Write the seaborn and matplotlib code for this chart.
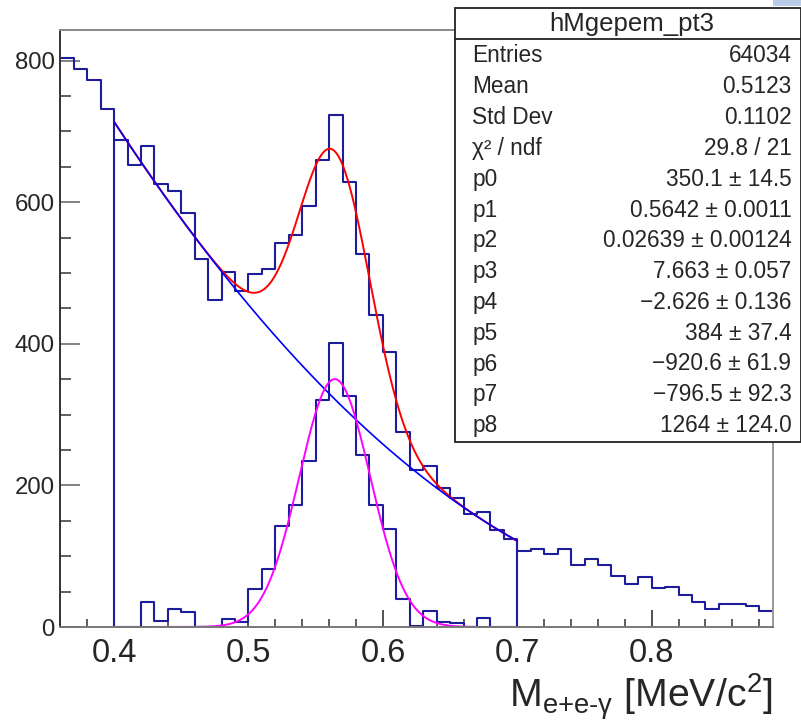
import numpy as np
import pandas as pd
import matplotlib
matplotlib.use("Agg")
import matplotlib.pyplot as plt
import seaborn as sns
from matplotlib.patches import Rectangle
from matplotlib.lines import Line2D
from matplotlib.ticker import MultipleLocator, FixedLocator

# ---------------- data ----------------
bin_low = 0.36
bin_width = 0.01
total_counts = [803, 788, 773, 731, 688, 653, 679, 626, 616, 585,
                520, 462, 502, 474, 499, 505, 543, 553, 594, 660,
                723, 628, 527, 440, 388, 276, 222, 228, 197, 182,
                159, 163, 137, 124, 107, 110, 103, 110, 87, 96,
                87, 72, 61, 70, 55, 56, 45, 35, 26, 32,
                33, 29, 22]
signal_low = 0.40
signal_counts = [0, 0, 35, 8, 25, 21, 0, 0, 11, 7,
                 54, 82, 142, 173, 234, 320, 401, 326, 243, 172,
                 138, 40, 1, 23, 7, 6, 0, 13, 0, 0]
fit_range = [0.40, 0.70]
fit_params = [350.1, 0.5642, 0.02639, 7.663, -2.626, 384.0, -920.6, -796.5, 1264.0]

hist_title = "hMgepem_pt3"
stat_names = ["Entries", "Mean", "Std Dev", "\u03c7\u00b2 / ndf",
              "p0", "p1", "p2", "p3", "p4", "p5", "p6", "p7", "p8"]
stat_values = ["64034", "0.5123", "0.1102", "29.8 / 21",
               "350.1 \u00b1 14.5", "0.5642 \u00b1 0.0011", "0.02639 \u00b1 0.00124",
               "7.663 \u00b1 0.057", "\u22122.626 \u00b1 0.136", "384 \u00b1 37.4",
               "\u2212920.6 \u00b1 61.9", "\u2212796.5 \u00b1 92.3", "1264 \u00b1 124.0"]
x_ticks = [0.4, 0.5, 0.6, 0.7, 0.8]
x_tick_labels = ["0.4", "0.5", "0.6", "0.7", "0.8"]
y_ticks = [0, 200, 400, 600, 800]
y_tick_labels = ["0", "200", "400", "600", "800"]
x_label = r"M$_{\text{e+e-}\gamma}$ [MeV/c$^{2}$]"

# ---------------- style ----------------
sns.set_style("ticks")
plt.rcParams["font.family"] = ["Liberation Sans", "DejaVu Sans"]
plt.rcParams["mathtext.fontset"] = "custom"
plt.rcParams["mathtext.rm"] = "Liberation Sans"
plt.rcParams["mathtext.it"] = "Liberation Sans"
plt.rcParams["mathtext.sf"] = "Liberation Sans"

W, H = 801, 724
fig = plt.figure(figsize=(W / 100, H / 100), dpi=100)
ax_l, ax_r, ax_b, ax_t = 60.3, 772.7, 627.0, 30.0
ax = fig.add_axes([ax_l / W, 1 - ax_b / H, (ax_r - ax_l) / W, (ax_b - ax_t) / H])

navy = "#1c1c9c"
hlw = 1.5

# total histogram
n_tot = len(total_counts)
edges = [round(bin_low + bin_width * k, 4) for k in range(n_tot + 1)]
centers = [e + bin_width / 2 for e in edges[:-1]]
df_tot = pd.DataFrame({"x": centers, "w": total_counts})
sns.histplot(data=df_tot, x="x", weights="w", bins=edges, element="step",
             fill=False, color=navy, linewidth=hlw, ax=ax)

# fit-range copy edges (drops to zero at 0.4 and 0.7)
i0 = int(round((fit_range[0] - bin_low) / bin_width))
i1 = int(round((fit_range[1] - bin_low) / bin_width)) - 1
ax.vlines([fit_range[0], fit_range[1]], 0, [total_counts[i0], total_counts[i1]],
          color=navy, linewidth=hlw)

# signal histogram
n_sig = len(signal_counts)
sedges = [round(signal_low + bin_width * k, 4) for k in range(n_sig + 1)]
scenters = [e + bin_width / 2 for e in sedges[:-1]]
df_sig = pd.DataFrame({"x": scenters, "w": signal_counts})
sns.histplot(data=df_sig, x="x", weights="w", bins=sedges, element="step",
             fill=False, color=navy, linewidth=hlw, ax=ax)
ax.vlines([sedges[0], sedges[-1]], 0, [signal_counts[0], signal_counts[-1]],
          color=navy, linewidth=hlw)

# fit curves from the stated parameters
p0, p1, p2, p3, p4, p5, p6, p7, p8 = fit_params
xs = np.linspace(fit_range[0], fit_range[1], 500)
gaus = p0 * np.exp(-0.5 * ((xs - p1) / p2) ** 2)
bkg = np.exp(p3 + p4 * xs) + p5 + p6 * xs + p7 * xs ** 2 + p8 * xs ** 3
sns.lineplot(x=xs, y=gaus + bkg, color="#ff0000", linewidth=1.4, ax=ax,
             estimator=None, sort=False)
sns.lineplot(x=xs, y=bkg, color="#0000ff", linewidth=1.2, ax=ax,
             estimator=None, sort=False)
sns.lineplot(x=xs, y=gaus, color="#ff00ff", linewidth=1.4, ax=ax,
             estimator=None, sort=False)

# axes
ax.set_xlim(edges[0], edges[-1])
ax.set_ylim(0, 1.05 * max(total_counts))
ax.set_ylabel("")
ax.xaxis.set_major_locator(FixedLocator(x_ticks))
ax.set_xticklabels(x_tick_labels)
ax.yaxis.set_major_locator(FixedLocator(y_ticks))
ax.set_yticklabels(y_tick_labels)
ax.xaxis.set_minor_locator(MultipleLocator(0.02))
ax.yaxis.set_minor_locator(MultipleLocator(50))
ax.tick_params(axis="y", which="major", direction="in", length=14.4, width=1.3,
               color="#777777", labelsize=17.3, pad=4)
ax.tick_params(axis="y", which="minor", direction="in", length=7.7, width=1.1,
               color="#333333")
ax.tick_params(axis="x", which="major", direction="in", length=12.2, width=1.2,
               color="#333333", labelsize=23.5, pad=8)
ax.tick_params(axis="x", which="minor", direction="in", length=5.5, width=1.1,
               color="#333333")
for s, c in [("left", "#333333"), ("bottom", "#777777"), ("right", "#999999"), ("top", "#888888")]:
    ax.spines[s].set_visible(True)
    ax.spines[s].set_color(c)
    ax.spines[s].set_linewidth(1.4)

ax.set_xlabel(x_label, fontsize=28.3)
ax.xaxis.label.set_horizontalalignment("right")
ax.xaxis.label.set_verticalalignment("baseline")
ax.xaxis.set_label_coords(1.0, -(708 - ax_b) / (ax_b - ax_t))

# stats box
bx0, by0, bx1, by1 = 455, 8, 800.5, 442
fig.add_artist(Rectangle((773 / W, 1 - 6 / H), 28 / W, 6 / H, transform=fig.transFigure,
                         facecolor="#b9cde8", edgecolor="none", zorder=5))
fig.add_artist(Rectangle((bx0 / W, 1 - by1 / H), (bx1 - bx0) / W, (by1 - by0) / H,
                         transform=fig.transFigure, facecolor="white",
                         edgecolor="#222222", linewidth=1.3, zorder=10))
fig.add_artist(Line2D([bx0 / W, bx1 / W], [1 - 39 / H, 1 - 39 / H],
                      transform=fig.transFigure, color="#222222", linewidth=1.3, zorder=11))
fig.text(632 / W, 1 - 31 / H, hist_title, ha="center", va="baseline",
         fontsize=18.5, zorder=12)
for i, (nm, val) in enumerate(zip(stat_names, stat_values)):
    yb = 1 - (62.5 + 30.8 * i) / H
    fig.text(472.5 / W, yb, nm, ha="left", va="baseline", fontsize=16.3, zorder=12)
    fig.text(791.5 / W, yb, val, ha="right", va="baseline", fontsize=16.3, zorder=12)

fig.savefig("out.png", dpi=100)
